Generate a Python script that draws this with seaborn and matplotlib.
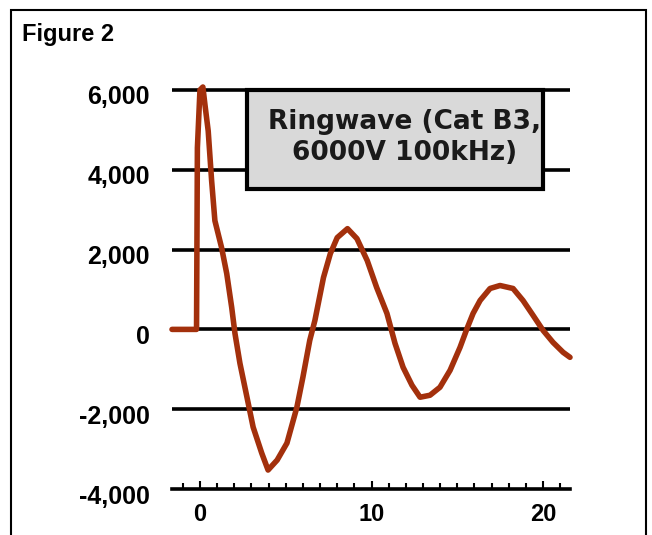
import matplotlib
matplotlib.use("Agg")
import matplotlib.pyplot as plt
import matplotlib.transforms as mtransforms
from matplotlib.patches import Rectangle
from matplotlib.ticker import FixedLocator, MultipleLocator
import seaborn as sns

# ringwave trace (time in us, volts)
time_us = [-1.63, -0.2, -0.15, 0.0, 0.17, 0.3, 0.48, 0.68, 0.87, 1.26, 1.56, 1.85,
           2.04, 2.33, 2.74, 3.1, 3.6, 3.97, 4.5, 5.07, 5.65, 6.0, 6.4, 6.7,
           7.2, 7.6, 8.0, 8.6, 9.15, 9.75, 10.3, 10.9, 11.37, 11.84, 12.36, 12.83,
           13.41, 13.99, 14.58, 15.16, 15.57, 15.92, 16.33, 16.91, 17.49, 18.25,
           18.83, 19.42, 20.0, 20.58, 21.17, 21.57]
volts = [0, 0, 4550, 6000, 6075, 5600, 4975, 3725, 2725, 2050, 1400, 550,
         -100, -850, -1700, -2450, -3100, -3525, -3275, -2850, -1950, -1200, -275, 225,
         1300, 1900, 2300, 2525, 2275, 1725, 1050, 400, -350, -950, -1400, -1700,
         -1650, -1450, -1025, -450, 25, 400, 725, 1025, 1100, 1025,
         725, 350, -25, -325, -575, -700]

y_ticks = [-4000, -2000, 0, 2000, 4000, 6000]
y_labels = ["-4,000", "-2,000", "0", "2,000", "4,000", "6,000"]
x_ticks = [0, 10, 20]
x_labels = ["0", "10", "20"]
box_text = "Ringwave (Cat B3,\n6000V 100kHz)"

sns.set_style("white")
plt.rcParams['font.family'] = ['Liberation Sans', 'DejaVu Sans']

fig = plt.figure(figsize=(6.52, 5.35), dpi=100)
ax = fig.add_axes([172/652, 1 - 489/535, 398/652, (489 - 86)/535])

# grid lines drawn first, under the trace
for yv in y_ticks[1:]:
    ax.axhline(yv, color='black', lw=2.6, zorder=1)

sns.lineplot(x=time_us, y=volts, estimator=None, sort=False,
             color='#A3300C', lw=4, ax=ax, zorder=3, clip_on=False)

ax.set_xlim(-1.63, 21.57)
ax.set_ylim(-4000, 6100)

for s in ['left', 'right', 'top']:
    ax.spines[s].set_visible(False)
ax.spines['bottom'].set_linewidth(2.6)
ax.spines['bottom'].set_color('black')

ax.xaxis.set_major_locator(FixedLocator(x_ticks))
ax.set_xticklabels(x_labels)
ax.xaxis.set_minor_locator(MultipleLocator(1))
ax.tick_params(axis='x', which='major', bottom=True, direction='in', length=6, width=1.5,
               color='black', pad=10, labelsize=17, labelcolor='black')
ax.tick_params(axis='x', which='minor', bottom=True, direction='in', length=4, width=1.5,
               color='black')
ax.set_yticks(y_ticks)
ax.set_yticklabels(y_labels)
ax.tick_params(axis='y', length=0, pad=16, labelsize=18, labelcolor='black')
for lab in ax.get_xticklabels() + ax.get_yticklabels():
    lab.set_fontweight('bold')
shift = mtransforms.ScaledTranslation(0, -5/100, fig.dpi_scale_trans)
for lab in ax.get_yticklabels():
    lab.set_transform(lab.get_transform() + shift)
ax.set_xlabel("")
ax.set_ylabel("")

# label box
rect = Rectangle((2.74, 3530), 20.0 - 2.74, 6000 - 3530, facecolor='#D9D9D9',
                 edgecolor='black', lw=3, zorder=4)
ax.add_patch(rect)
txt = ax.text(11.95, 4800, box_text, ha='center', va='center', fontsize=19,
              family='DejaVu Sans', fontweight='bold', linespacing=1.25, zorder=5,
              color='#1a1a1a')
txt.set_clip_path(rect)

fig.text(22/652, 1 - 41/535, "Figure 2", fontsize=17, fontweight='bold',
         va='baseline', color='black')

# outer frame, open at the bottom
frame = Rectangle((11/652, -0.05), (646 - 11)/652, (535 - 10)/535 + 0.05,
                  transform=fig.transFigure, fill=False, lw=1.5, edgecolor='black')
fig.patches.append(frame)

fig.savefig("out.png", dpi=100)
